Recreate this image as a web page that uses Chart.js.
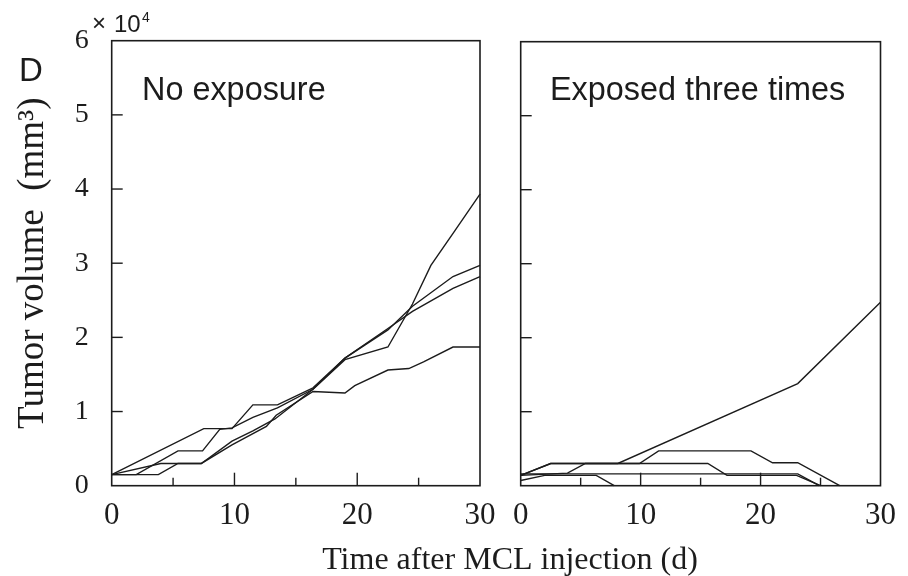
<!DOCTYPE html>
<html><head><meta charset="utf-8">
<script src="https://cdn.jsdelivr.net/npm/chart.js@4/dist/chart.umd.min.js"></script>
<style>
html,body{margin:0;padding:0;background:#fff;}
#wrap{position:relative;width:908px;height:576px;overflow:hidden;}
#c1{position:absolute;left:0;top:0;}
#c2{position:absolute;left:500px;top:0;}
</style></head><body>
<div id="wrap"><canvas id="c1" width="908" height="576"></canvas><canvas id="c2" width="408" height="576"></canvas></div>
<script>
// ---- tick values ----
const yTickValues = [0, 1, 2, 3, 4, 5, 6];
const yInnerTicks = [1, 2, 3, 4, 5];
const xTickValues = [0, 10, 20, 30];
const xInnerTicks = [5, 10, 15, 20, 25];
const xMajorInner = [10, 20];

// ---- No exposure (tumor volume, x10^4 mm^3) ----
const noExp1Days = [0, 7.5, 9.8, 11.5, 13.5, 16.4, 19, 22.5, 24.5, 27.8, 30];
const noExp1Vol  = [0.15, 0.77, 0.77, 1.09, 1.09, 1.32, 1.72, 2.12, 2.35, 2.66, 2.82];
const noExp2Days = [0, 2, 5.4, 7.4, 8.8, 9.8, 11.5, 13.5, 16.4, 19, 22.5, 24.5, 27.8, 30];
const noExp2Vol  = [0.15, 0.15, 0.47, 0.47, 0.76, 0.78, 0.92, 1.05, 1.30, 1.72, 2.10, 2.42, 2.82, 2.97];
const noExp3Days = [0, 4, 7.3, 9.8, 11.5, 13.3, 16.4, 19, 22.5, 24.5, 26, 28, 30];
const noExp3Vol  = [0.15, 0.30, 0.30, 0.60, 0.74, 0.90, 1.30, 1.70, 1.87, 2.45, 2.97, 3.45, 3.93];
const noExp4Days = [0, 3.8, 5.4, 7.3, 9.8, 12.6, 13.4, 16.4, 19, 19.8, 22.5, 24.2, 25.4, 27.8, 30];
const noExp4Vol  = [0.15, 0.15, 0.30, 0.30, 0.55, 0.80, 0.95, 1.27, 1.25, 1.35, 1.56, 1.58, 1.67, 1.87, 1.87];

// ---- Exposed three times ----
const exp1Days = [0, 2.5, 8.1, 23.1, 30];
const exp1Vol  = [0.14, 0.30, 0.30, 1.38, 2.48];
const exp2Days = [0, 2.5, 15.6, 17.2, 23, 25];
const exp2Vol  = [0.14, 0.30, 0.30, 0.14, 0.14, 0];
const exp3Days = [0, 3.9, 5.4, 9.9, 11.5, 19.2, 21, 23.1, 26.6];
const exp3Vol  = [0.14, 0.17, 0.30, 0.30, 0.47, 0.47, 0.31, 0.31, 0];
const exp4Days = [0, 23.1, 24.9];
const exp4Vol  = [0.16, 0.16, 0];
const exp5Days = [0, 2, 6.3, 7.8];
const exp5Vol  = [0.07, 0.14, 0.14, 0];

const pts = (d, v) => d.map((x, i) => ({x, y: v[i]}));
const INK = '#1c1c1c';
const ds = (d, v) => ({data: pts(d, v), borderColor: INK, borderWidth: 1.4, pointRadius: 0, tension: 0, fill: false, clip: 4});

const framePlugin = {
  id: 'frame',
  afterDraw(chart, args, o) {
    const {ctx, chartArea: a, scales: {x, y}} = chart;
    ctx.save();
    ctx.strokeStyle = INK;
    ctx.lineWidth = 1.6;
    ctx.strokeRect(a.left, a.top, a.right - a.left, a.bottom - a.top);
    ctx.lineWidth = 1.4;
    for (const v of yInnerTicks) {
      const py = y.getPixelForValue(v);
      ctx.beginPath(); ctx.moveTo(a.left, py); ctx.lineTo(a.left + 11, py); ctx.stroke();
    }
    for (const v of xInnerTicks) {
      const px = x.getPixelForValue(v);
      const len = xMajorInner.includes(v) ? 13 : 8;
      ctx.beginPath(); ctx.moveTo(px, a.bottom); ctx.lineTo(px, a.bottom - len); ctx.stroke();
    }
    ctx.fillStyle = INK;
    ctx.textBaseline = 'alphabetic';
    for (const t of (o.texts || [])) {
      ctx.font = t.font;
      ctx.textAlign = t.align || 'left';
      ctx.fillText(t.text, t.x, t.y);
    }
    ctx.restore();
  }
};

const serif = '"Liberation Serif", "Times New Roman", serif';
const sans = '"Liberation Sans", Arial, sans-serif';

const xScale = () => ({
  type: 'linear', min: 0, max: 30,
  grid: {display: false, drawTicks: false}, border: {display: false},
  ticks: {stepSize: 10, color: INK, font: {family: serif, size: 31}, padding: 12, autoSkip: false,
    callback: v => xTickValues.includes(v) ? String(v) : ''},
  afterFit: s => { s.height = 90.3; }
});

new Chart(document.getElementById('c1'), {
  type: 'line',
  data: {datasets: [ds(noExp1Days, noExp1Vol), ds(noExp2Days, noExp2Vol), ds(noExp3Days, noExp3Vol), ds(noExp4Days, noExp4Vol)]},
  options: {
    responsive: false, animation: false, events: [],
    layout: {padding: {left: 0, right: 428, top: 40.7, bottom: 0}},
    plugins: {legend: {display: false}, tooltip: {enabled: false},
      frame: {texts: [
        {text: 'D', x: 19, y: 81, font: '33px ' + sans},
        {text: '\u00d7', x: 92, y: 31, font: '24px ' + sans},
        {text: '10', x: 114, y: 32, font: '24px ' + sans},
        {text: '4', x: 142, y: 22, font: '14px ' + sans},
        {text: 'No exposure', x: 142, y: 100, font: '32.4px ' + sans},
        {text: 'Time after MCL injection (d)', x: 510, y: 569, font: '32px ' + serif, align: 'center'}
      ]}},
    scales: {
      x: xScale(),
      y: {type: 'linear', min: 0, max: 6,
        grid: {display: false, drawTicks: false}, border: {display: false},
        ticks: {stepSize: 1, color: INK, font: {family: serif, size: 28}, padding: 23,
          callback: v => yTickValues.includes(v) ? String(v) : ''},
        title: {display: true, text: 'Tumor volume  (mm\u00b3)', color: INK, font: {family: serif, size: 37}, padding: {top: 11, bottom: 0}},
        afterFit: s => { s.width = 111.7; }
      }
    }
  },
  plugins: [framePlugin]
});

new Chart(document.getElementById('c2'), {
  type: 'line',
  data: {datasets: [ds(exp1Days, exp1Vol), ds(exp2Days, exp2Vol), ds(exp3Days, exp3Vol), ds(exp4Days, exp4Vol), ds(exp5Days, exp5Vol)]},
  options: {
    responsive: false, animation: false, events: [],
    layout: {padding: {left: 20.7, right: 20.3, top: 41.7, bottom: 0}},
    plugins: {legend: {display: false}, tooltip: {enabled: false},
      frame: {texts: [
        {text: 'Exposed three times', x: 50, y: 100, font: '32.4px ' + sans}
      ]}},
    scales: {
      x: xScale(),
      y: {type: 'linear', min: 0, max: 6, display: false}
    }
  },
  plugins: [framePlugin]
});
</script>
</body></html>
